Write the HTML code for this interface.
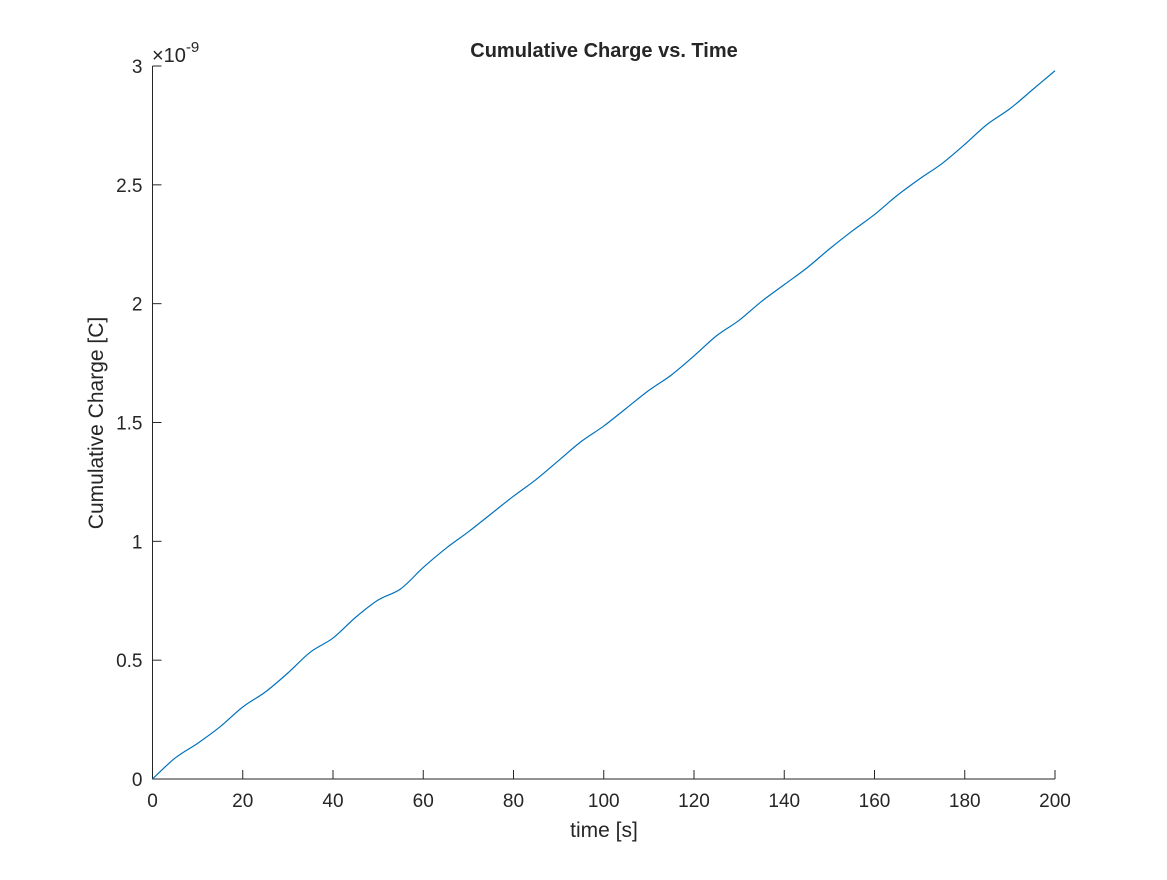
<!DOCTYPE html>
<html><head><meta charset="utf-8"><style>
body{margin:0;background:#fff;}
text{font-family:"Liberation Sans",sans-serif;fill:#262626;}
</style></head><body>
<svg id="chart" width="1167" height="875" xmlns="http://www.w3.org/2000/svg">
<rect width="1167" height="875" fill="#fff"/>
<text x="604" y="57" text-anchor="middle" font-size="20" font-weight="bold" fill="#000">Cumulative Charge vs. Time</text>
<text x="604" y="837" text-anchor="middle" font-size="21">time [s]</text>
<text transform="translate(103,423) rotate(-90)" text-anchor="middle" font-size="21">Cumulative Charge [C]</text>
<text x="152" y="62" font-size="20">×10<tspan dy="-10" font-size="15">-9</tspan></text>
<g id="axes"></g>
<path id="series" fill="none" stroke="#0072BD" stroke-width="1.2"/>
</svg>
<script>
const xTicks=[0,20,40,60,80,100,120,140,160,180,200];
const yTicks=[0,0.5,1,1.5,2,2.5,3];
const yTickLabels=["0","0.5","1","1.5","2","2.5","3"];
const timeValues=[0,5,10,15,20,25,30,35,40,45,50,55,60,65,70,75,80,85,90,95,100,105,110,115,120,125,130,135,140,145,150,155,160,165,170,175,180,185,190,195,200];
const chargeValues=[0,0.088,0.15,0.22,0.303,0.366,0.446,0.534,0.593,0.68,0.753,0.80,0.89,0.97,1.04,1.115,1.19,1.26,1.34,1.42,1.485,1.56,1.635,1.70,1.78,1.865,1.93,2.01,2.08,2.15,2.23,2.305,2.375,2.455,2.525,2.59,2.67,2.755,2.82,2.90,2.98];
const X0=152.5,X1=1055,Y0=779,Y1=66;
const sx=v=>X0+(v-0)/(200-0)*(X1-X0);
const sy=v=>Y0-(v-0)/(3-0)*(Y0-Y1);
const NS="http://www.w3.org/2000/svg";
const g=document.getElementById('axes');
function mk(t,a){const e=document.createElementNS(NS,t);for(const k in a)e.setAttribute(k,a[k]);return e;}
let ax=mk('path',{d:`M${X0},${Y1}V${Y0}H${X1}`,stroke:'#262626','stroke-width':1,fill:'none'});


g.appendChild(ax);
xTicks.forEach(t=>{const x=sx(t);
 const l=mk('line',{x1:x,x2:x,y1:Y0,y2:Y0-9,stroke:'#262626'});
 
 
 g.appendChild(l);
 const tx=mk('text',{x:x,y:Y0+28,'text-anchor':'middle','font-size':19});tx.textContent=t;
 
 
 g.appendChild(tx);});
yTicks.forEach((t,i)=>{const y=sy(t);
 const l=mk('line',{x1:X0,x2:X0+9,y1:y,y2:y,stroke:'#262626'});
 
 
 g.appendChild(l);
 const tx=mk('text',{x:X0-10,y:y+7,'text-anchor':'end','font-size':19});tx.textContent=yTickLabels[i];
 
 
 g.appendChild(tx);});
const p=timeValues.map((t,i)=>[sx(t),sy(chargeValues[i])]);
let d=`M${p[0][0]},${p[0][1]}`;
for(let i=0;i<p.length-1;i++){const a=p[Math.max(0,i-1)],b=p[i],c=p[i+1],e=p[Math.min(p.length-1,i+2)];
 d+=`C${b[0]+(c[0]-a[0])/6},${b[1]+(c[1]-a[1])/6} ${c[0]-(e[0]-b[0])/6},${c[1]-(e[1]-b[1])/6} ${c[0]},${c[1]}`;}
document.getElementById('series').setAttribute('d',d);
</script>
</body></html>
